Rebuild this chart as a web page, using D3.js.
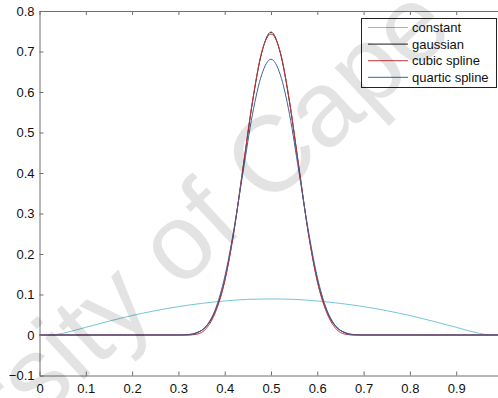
<!DOCTYPE html>
<html lang="en">
<head>
<meta charset="UTF-8"/>
<title>Kernel comparison</title>
<script src="https://d3js.org/d3.v7.min.js"></script>
<style>
    body { margin: 0; background: white; }
    svg text { font-family: "Liberation Sans", Arial, sans-serif; }
</style>
</head>
<body>
<script>
// values
var peakX = [0, 0.30, 0.32, 0.34, 0.36, 0.38, 0.40, 0.42, 0.44, 0.46, 0.48, 0.50,
             0.52, 0.54, 0.56, 0.58, 0.60, 0.62, 0.64, 0.66, 0.68, 0.70, 1.0];
var gaussian = [0, 0, 0.001, 0.006, 0.021, 0.060, 0.135, 0.257, 0.415, 0.575, 0.697, 0.748,
                0.697, 0.575, 0.415, 0.257, 0.135, 0.060, 0.021, 0.006, 0.001, 0, 0];
var cubic    = [0, 0, 0, 0.002, 0.016, 0.056, 0.132, 0.256, 0.417, 0.577, 0.699, 0.743,
                0.699, 0.577, 0.417, 0.256, 0.132, 0.056, 0.016, 0.002, 0, 0, 0];
var quartic  = [0, 0, 0, 0.005, 0.022, 0.064, 0.143, 0.262, 0.405, 0.545, 0.643, 0.681,
                0.643, 0.545, 0.405, 0.262, 0.143, 0.064, 0.022, 0.005, 0, 0, 0];

var constX = [0.03, 0.05, 0.10, 0.15, 0.20, 0.25, 0.30, 0.35, 0.40, 0.45, 0.50,
              0.55, 0.60, 0.65, 0.70, 0.75, 0.80, 0.85, 0.90, 0.95, 0.97];
var constant = [0, 0.004, 0.019, 0.034, 0.048, 0.060, 0.070, 0.078, 0.084, 0.088, 0.089,
                0.088, 0.084, 0.078, 0.070, 0.060, 0.048, 0.034, 0.019, 0.004, 0];

var xTicks = [0, 0.1, 0.2, 0.3, 0.4, 0.5, 0.6, 0.7, 0.8, 0.9];
var yTicks = [-0.1, 0, 0.1, 0.2, 0.3, 0.4, 0.5, 0.6, 0.7, 0.8];
var names = ["constant", "gaussian", "cubic spline", "quartic spline"];
var colors = ["#74c6d6", "#1a1a1a", "#c8383c", "#44609c"];

var w = 498, h = 398;
var plotLeft = 39.5, plotRight = 502.5, plotTop = 11, plotBottom = 375.5;

var x = d3.scaleLinear().domain([0, 1]).range([plotLeft, plotRight]);
var y = d3.scaleLinear().domain([-0.1, 0.8]).range([plotBottom, plotTop]);

var svg = d3.select("body").append("svg")
    .attr("width", w)
    .attr("height", h);

var series = [
    {xs: constX, ys: constant},
    {xs: peakX, ys: gaussian},
    {xs: peakX, ys: cubic},
    {xs: peakX, ys: quartic}
];

var line = d3.line()
    .x(function(d){ return x(d[0]); })
    .y(function(d){ return y(d[1]); })
    .curve(d3.curveMonotoneX);

svg.selectAll("path.curve")
    .data(series)
    .enter()
    .append("path")
    .attr("class", "curve")
    .attr("d", function(s){ return line(d3.zip(s.xs, s.ys)); })
    .attr("fill", "none")
    .attr("stroke", function(d, i){ return colors[i]; })
    .attr("stroke-width", 1);

// axes box with inward ticks
var axisColor = "#707070";
svg.append("g")
    .attr("transform", "translate(0," + plotBottom + ")")
    .call(d3.axisBottom(x).tickValues(xTicks).tickSizeInner(-4).tickSizeOuter(0)
        .tickPadding(8).tickFormat(function(d){ return d === 0 ? "0" : d3.format(".1f")(d); }));
svg.append("g")
    .attr("transform", "translate(0," + plotTop + ")")
    .call(d3.axisTop(x).tickValues(xTicks).tickSizeInner(-4).tickSizeOuter(0).tickFormat(""));
svg.append("g")
    .attr("transform", "translate(" + plotLeft + ",0)")
    .call(d3.axisLeft(y).tickValues(yTicks).tickSizeInner(-4).tickSizeOuter(0)
        .tickPadding(5).tickFormat(function(d){ return d === 0 ? "0" : d3.format(".1f")(d).replace("-", "\u2212"); }));
svg.append("g")
    .attr("transform", "translate(" + plotRight + ",0)")
    .call(d3.axisRight(y).tickValues(yTicks).tickSizeInner(-4).tickSizeOuter(0).tickFormat(""));

svg.selectAll(".domain, .tick line").attr("stroke", axisColor);
svg.selectAll(".tick text").attr("fill", "#111").style("font-size", "13px");

// legend
var lg = svg.append("g");
lg.append("rect")
    .attr("x", 361.5).attr("y", 18.5)
    .attr("width", 135).attr("height", 69)
    .attr("fill", "white").attr("stroke", "#222");
names.forEach(function(n, i){
    var yy = 27.5 + i * 16.6;
    lg.append("line")
        .attr("x1", 368).attr("x2", 408)
        .attr("y1", yy).attr("y2", yy)
        .attr("stroke", colors[i]);
    lg.append("text")
        .attr("x", 412).attr("y", yy + 4.5)
        .style("font-size", "13px")
        .attr("fill", "#111")
        .text(n);
});

// watermark
svg.append("text")
    .attr("transform", "translate(236,238) rotate(-43)")
    .attr("text-anchor", "middle")
    .style("font-size", "108px")
    .attr("fill", "#000")
    .attr("fill-opacity", 0.11)
    .text("University of Cape Town");
</script>
</body>
</html>
